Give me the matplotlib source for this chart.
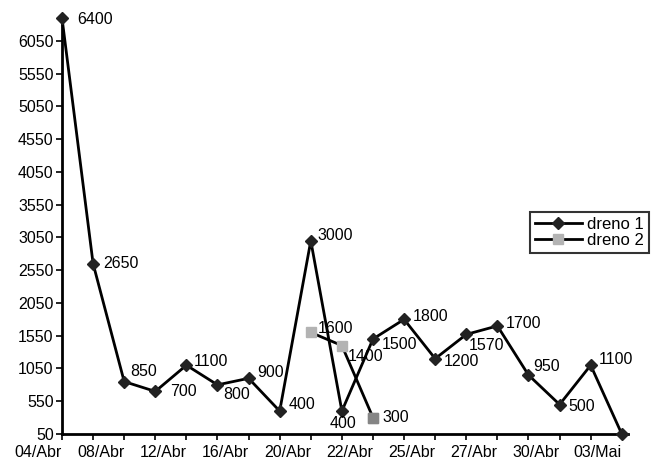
import numpy as np
import matplotlib.pyplot as plt

plt.rcParams['font.family'] = ['Liberation Sans', 'DejaVu Sans']

# categories (one per measurement), only every other one gets a label
dates = ["04/Abr", "06/Abr", "08/Abr", "10/Abr", "12/Abr", "14/Abr", "16/Abr",
         "18/Abr", "20/Abr", "21/Abr", "22/Abr", "24/Abr", "25/Abr", "26/Abr",
         "27/Abr", "29/Abr", "30/Abr", "02/Mai", "03/Mai"]
dreno1 = [6400, 2650, 850, 700, 1100, 800, 900, 400, 3000, 400,
          1500, 1800, 1200, 1570, 1700, 950, 500, 1100, 50]
dreno1_labels = ["6400", "2650", "850", "700", "1100", "800", "900", "400", "3000", "400",
                 "1500", "1800", "1200", "1570", "1700", "950", "500", "1100", ""]
dreno2_idx = [8, 9, 10]
dreno2 = [1600, 1400, 300]
yticks = list(range(50, 6051, 500))

# label offsets in points (dx, dy)
off1 = [(11, -1), (7, 0), (4, 7), (11, 0), (5, 3), (4, -7), (6, 4), (6.5, 5), (5, 3.5), (-9, -9),
        (6.5, -4), (6, 2), (6.5, -2), (2, -8), (6, 2), (3.5, 6), (6.5, -1.5), (6, 4), (0, 0)]
off2 = [(5, 3), (4.5, -8), (7, 0)]

fs = 11.5

fig = plt.figure(figsize=(6.62, 4.61), dpi=100)
ax = fig.add_axes([62 / 662, 27 / 461, 566 / 662, 416 / 461])

x = np.arange(len(dates))
ax.plot(x, dreno1, color='black', lw=2, marker='D', ms=6.5, mfc='#222222',
        mec='#222222', label='dreno 1', clip_on=False, zorder=3)
ax.plot(dreno2_idx, dreno2, color='black', lw=2, marker='s', ms=7,
        mfc='#b3b3b3', mec='#b3b3b3', label='dreno 2', clip_on=False, zorder=3)
# last dreno 2 point is drawn darker
ax.plot(dreno2_idx[-1], dreno2[-1], ls='none', marker='s', ms=7,
        mfc='#858585', mec='#858585', zorder=4)

for xi, v, t, (dx, dy) in zip(x, dreno1, dreno1_labels, off1):
    if t:
        ax.annotate(t, (xi, v), xytext=(dx, dy), textcoords='offset points',
                    ha='left', va='center', fontsize=fs)
for xi, v, (dx, dy) in zip(dreno2_idx, dreno2, off2):
    ax.annotate(str(v), (xi, v), xytext=(dx, dy), textcoords='offset points',
                ha='left', va='center', fontsize=fs)

ax.set_xlim(0, 18.2)
ax.set_ylim(50, 6400)
ax.set_yticks(yticks)
ax.set_yticklabels([str(t) for t in yticks], fontsize=fs)
ax.set_xticks(x)
ax.set_xticklabels([d if i % 2 == 0 else "" for i, d in enumerate(dates)],
                   fontsize=fs, ha='right')
ax.tick_params(axis='both', direction='out', length=4, width=1.2, pad=2)
ax.tick_params(axis='x', pad=4)
ax.spines['top'].set_visible(False)
ax.spines['right'].set_visible(False)
ax.spines['left'].set_linewidth(2)
ax.spines['bottom'].set_linewidth(2)

leg = ax.legend(loc='upper left', bbox_to_anchor=(530 / 662, 1 - 212 / 461),
                bbox_transform=fig.transFigure, fontsize=12, frameon=True,
                fancybox=False, handlelength=2.8, handletextpad=0.3,
                borderpad=0.3, labelspacing=0.05, borderaxespad=0)
leg.get_frame().set_edgecolor('black')
leg.get_frame().set_linewidth(1.5)

fig.savefig("out.png", dpi=100)
